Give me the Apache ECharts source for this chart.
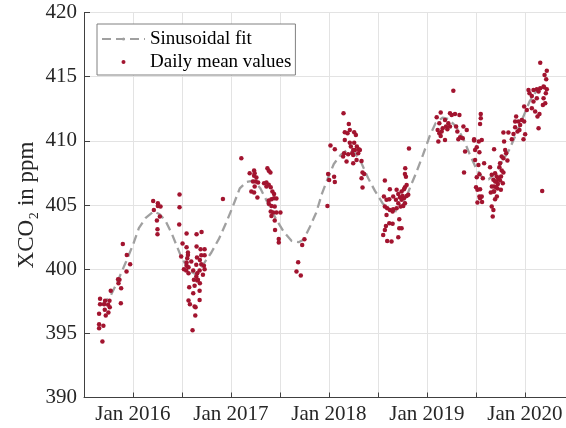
<!DOCTYPE html>
<html>
<head>
<meta charset="utf-8">
<script src="https://cdn.jsdelivr.net/npm/echarts@6/dist/echarts.min.js"></script>
<style>
  html, body { margin: 0; padding: 0; background: #fff; }
  #main { width: 566px; height: 428px; }
</style>
</head>
<body>
<div id="main"></div>
<script>
// x values are decimal years, y values XCO2 in ppm
const janLabels = ['Jan 2016', 'Jan 2017', 'Jan 2018', 'Jan 2019', 'Jan 2020'];
const janYears = [2016, 2017, 2018, 2019, 2020];

const fitCurve = [
  [2015.68, 397.2], [2015.77, 397.9], [2015.84, 399.0], [2015.93, 400.6], [2016.00, 401.9],
  [2016.06, 403.2], [2016.13, 404.0], [2016.21, 404.5], [2016.27, 404.3], [2016.33, 403.8],
  [2016.40, 402.7], [2016.49, 401.0], [2016.57, 399.9], [2016.64, 399.6], [2016.72, 400.4],
  [2016.80, 401.3], [2016.88, 402.4], [2016.95, 403.6], [2017.02, 404.9], [2017.09, 406.3],
  [2017.16, 406.8], [2017.23, 406.9], [2017.30, 406.3], [2017.38, 405.1], [2017.46, 403.9],
  [2017.54, 402.9], [2017.62, 402.2], [2017.69, 402.1], [2017.74, 402.3], [2017.80, 403.2],
  [2017.87, 404.4], [2017.93, 405.9], [2017.99, 407.1], [2018.05, 408.2], [2018.12, 408.9],
  [2018.19, 409.3], [2018.26, 409.1], [2018.33, 408.3], [2018.40, 407.1], [2018.47, 406.1],
  [2018.55, 405.1], [2018.63, 404.6], [2018.70, 404.5], [2018.77, 405.2], [2018.83, 406.4],
  [2018.89, 407.5], [2018.96, 408.9], [2019.03, 410.4], [2019.09, 411.4], [2019.16, 411.8],
  [2019.22, 411.7], [2019.30, 411.1], [2019.37, 410.2], [2019.44, 408.9], [2019.50, 407.9],
  [2019.57, 407.1], [2019.63, 407.0], [2019.70, 407.5], [2019.77, 408.4], [2019.84, 409.3],
  [2019.91, 410.5], [2019.98, 411.8], [2020.05, 413.1], [2020.12, 413.9], [2020.18, 414.3]
];

const daily2015 = [
  [2015.688, 394.37], [2015.654, 395.40], [2015.698, 395.60], [2015.654, 395.70], [2015.654, 396.52],
  [2015.722, 396.39], [2015.749, 396.62], [2015.712, 396.83], [2015.763, 397.04], [2015.746, 397.22],
  [2015.705, 397.27], [2015.664, 397.27], [2015.715, 397.53], [2015.760, 397.53], [2015.664, 397.69],
  [2015.876, 397.35], [2015.773, 398.31], [2015.852, 398.91], [2015.862, 399.17], [2015.848, 399.22],
  [2015.879, 398.52], [2015.934, 399.82], [2015.971, 400.39], [2015.937, 401.11], [2015.896, 401.97]
];

const daily2016 = [
  [2016.206, 405.32], [2016.254, 405.14], [2016.254, 404.93], [2016.281, 404.88], [2016.213, 404.62],
  [2016.274, 404.10], [2016.244, 403.79], [2016.250, 403.11], [2016.250, 402.72],
  [2016.475, 405.81], [2016.475, 404.82], [2016.472, 403.48], [2016.547, 402.77], [2016.649, 402.72],
  [2016.700, 402.90], [2016.506, 402.00], [2016.547, 401.71], [2016.649, 401.76], [2016.690, 401.56],
  [2016.731, 401.56], [2016.561, 401.30], [2016.561, 401.10], [2016.492, 400.98], [2016.554, 400.85],
  [2016.653, 400.90], [2016.697, 401.09], [2016.731, 401.09], [2016.683, 400.72], [2016.547, 400.52],
  [2016.595, 400.60], [2016.547, 400.26], [2016.646, 400.34], [2016.697, 400.39], [2016.724, 400.26],
  [2016.731, 400.00], [2016.567, 400.15], [2016.520, 400.00], [2016.543, 399.90], [2016.567, 399.69],
  [2016.615, 399.90], [2016.656, 399.69], [2016.680, 399.90], [2016.714, 399.56], [2016.646, 399.43],
  [2016.622, 399.17], [2016.663, 399.17], [2016.683, 398.91], [2016.656, 399.12], [2016.629, 398.70],
  [2016.680, 398.31], [2016.615, 398.13], [2016.574, 398.60], [2016.567, 397.56], [2016.581, 397.27],
  [2016.629, 397.09], [2016.639, 397.04], [2016.680, 397.60], [2016.636, 396.39], [2016.608, 395.25],
  [2016.918, 405.47]
];

const daily2017 = [
  [2017.106, 408.64], [2017.191, 407.47], [2017.236, 407.68], [2017.242, 407.47], [2017.236, 407.27],
  [2017.260, 407.14], [2017.225, 406.83], [2017.253, 406.83], [2017.277, 406.75], [2017.208, 406.05],
  [2017.236, 405.97], [2017.270, 405.58], [2017.242, 406.44], [2017.372, 407.86], [2017.386, 407.66],
  [2017.403, 407.53], [2017.338, 406.70], [2017.362, 406.75], [2017.386, 406.57], [2017.406, 406.38],
  [2017.362, 406.44], [2017.423, 406.05], [2017.440, 405.86], [2017.386, 405.35], [2017.413, 405.45],
  [2017.440, 405.53], [2017.464, 405.50], [2017.386, 405.09], [2017.413, 404.93], [2017.447, 404.88],
  [2017.406, 404.49], [2017.430, 404.41], [2017.464, 404.41], [2017.505, 404.41], [2017.413, 404.15],
  [2017.447, 403.79], [2017.450, 403.06], [2017.488, 402.36], [2017.488, 402.07], [2017.686, 400.54],
  [2017.669, 399.82], [2017.713, 399.50], [2017.750, 402.33], [2017.727, 401.89]
];

const daily2018 = [
  [2017.985, 404.93], [2017.992, 407.42], [2018.002, 406.95], [2018.053, 407.21], [2018.060, 406.80],
  [2018.016, 409.63], [2018.060, 409.34], [2018.149, 412.15], [2018.203, 411.32], [2018.213, 410.85],
  [2018.162, 410.67], [2018.190, 410.59], [2018.258, 410.67], [2018.275, 410.46], [2018.162, 410.07],
  [2018.213, 409.86], [2018.258, 409.86], [2018.285, 409.55], [2018.305, 409.34], [2018.265, 409.29],
  [2018.224, 409.55], [2018.248, 409.29], [2018.155, 409.03], [2018.145, 408.77], [2018.196, 408.95],
  [2018.248, 408.90], [2018.299, 409.03], [2018.333, 408.43], [2018.282, 408.51], [2018.248, 408.25],
  [2018.180, 408.38], [2018.237, 409.03], [2018.316, 409.29], [2018.343, 407.53], [2018.360, 407.42],
  [2018.333, 407.08], [2018.343, 406.36],
  [2018.571, 406.90], [2018.622, 406.23], [2018.691, 406.18], [2018.708, 405.86], [2018.742, 406.05],
  [2018.766, 406.23], [2018.776, 406.38], [2018.793, 406.56], [2018.786, 407.21], [2018.776, 407.42],
  [2018.779, 407.86], [2018.561, 405.66], [2018.588, 405.40], [2018.616, 405.45], [2018.656, 405.66],
  [2018.684, 405.40], [2018.725, 405.60], [2018.752, 405.71], [2018.766, 405.53], [2018.793, 405.71],
  [2018.810, 405.79], [2018.742, 405.40], [2018.708, 405.14], [2018.776, 405.14], [2018.571, 404.88],
  [2018.595, 404.75], [2018.622, 404.62], [2018.656, 404.67], [2018.691, 404.75], [2018.732, 404.88],
  [2018.759, 404.93], [2018.588, 404.23], [2018.650, 404.49], [2018.718, 403.89], [2018.582, 403.37],
  [2018.616, 403.58], [2018.650, 403.53], [2018.571, 403.06], [2018.554, 402.67], [2018.718, 403.19],
  [2018.742, 403.19], [2018.708, 402.49], [2018.595, 402.20], [2018.639, 402.15], [2018.817, 409.40]
];

const daily2019 = [
  [2019.270, 413.91], [2019.100, 411.83], [2019.141, 412.20], [2019.185, 411.63], [2019.236, 412.15],
  [2019.253, 412.02], [2019.287, 412.09], [2019.332, 412.02], [2019.219, 411.37], [2019.236, 411.11],
  [2019.298, 411.11], [2019.373, 411.11], [2019.407, 410.85], [2019.110, 410.85], [2019.127, 410.59],
  [2019.151, 410.72], [2019.117, 409.94], [2019.185, 410.07], [2019.127, 411.37], [2019.161, 410.98],
  [2019.141, 410.38], [2019.195, 411.11], [2019.209, 410.90], [2019.311, 410.72], [2019.339, 410.28],
  [2019.366, 410.20], [2019.321, 410.12], [2019.390, 409.16], [2019.379, 407.53], [2019.482, 410.02],
  [2019.509, 409.50], [2019.530, 409.94],
  [2019.550, 412.10], [2019.550, 411.76], [2019.543, 411.32], [2019.482, 410.12], [2019.560, 410.07],
  [2019.492, 409.29], [2019.536, 409.11], [2019.492, 408.51], [2019.526, 408.12], [2019.584, 408.25],
  [2019.509, 407.16], [2019.571, 407.08], [2019.536, 407.40], [2019.502, 406.38], [2019.543, 406.23],
  [2019.536, 405.66], [2019.560, 405.66], [2019.516, 405.19], [2019.563, 405.24], [2019.543, 405.53],
  [2019.516, 406.18],
  [2019.645, 407.94], [2019.686, 409.34], [2019.662, 407.35], [2019.696, 407.47], [2019.713, 407.22],
  [2019.679, 406.96], [2019.707, 406.83], [2019.724, 406.64], [2019.686, 406.44], [2019.707, 406.39],
  [2019.720, 406.28], [2019.686, 406.05], [2019.652, 405.97], [2019.662, 404.88], [2019.679, 404.62],
  [2019.672, 404.10], [2019.696, 405.45], [2019.747, 408.25], [2019.740, 407.94], [2019.764, 407.68],
  [2019.781, 407.53], [2019.757, 407.22], [2019.747, 406.90], [2019.730, 407.09], [2019.663, 406.44],
  [2019.697, 406.83], [2019.731, 407.10], [2019.680, 406.05], [2019.714, 405.66], [2019.755, 406.18],
  [2019.775, 406.70], [2019.781, 410.64], [2019.832, 410.64], [2019.788, 409.94], [2019.799, 409.29],
  [2019.764, 408.77], [2019.809, 409.03], [2019.781, 408.64], [2019.822, 408.46], [2019.867, 410.12],
  [2019.884, 410.54], [2019.901, 411.06], [2019.925, 410.72], [2019.945, 410.85], [2019.911, 411.89],
  [2019.901, 411.50], [2019.935, 411.50], [2019.952, 411.24], [2019.969, 411.63], [2019.993, 411.50],
  [2019.986, 410.12]
];

const daily2020 = [
  [2020.003, 410.51], [2019.993, 412.67], [2020.020, 412.41], [2020.037, 413.97], [2020.047, 413.71],
  [2020.071, 413.50], [2020.088, 413.97], [2020.122, 414.02], [2020.157, 414.10], [2020.140, 413.84],
  [2020.122, 413.32], [2020.088, 413.06], [2020.071, 412.54], [2020.105, 412.28], [2020.129, 411.89],
  [2020.149, 412.10], [2020.184, 412.80], [2020.208, 412.93], [2020.191, 413.32], [2020.214, 413.71],
  [2020.224, 414.02], [2020.191, 414.23], [2020.140, 410.98], [2020.157, 416.09], [2020.201, 415.13],
  [2020.218, 414.80], [2020.224, 415.47], [2020.197, 414.17], [2020.177, 406.10]
];

const dailyMean = [].concat(daily2015, daily2016, daily2017, daily2018, daily2019, daily2020);

const chart = echarts.init(document.getElementById('main'));
const serif = 'Liberation Serif';

const option = {
  animation: false,
  backgroundColor: '#fff',
  textStyle: { fontFamily: serif },
  grid: { left: 84, right: 0, top: 12.5, bottom: 30.5 },
  legend: {
    orient: 'vertical',
    left: 97,
    top: 24,
    padding: [5, 4, 3, 4],
    itemWidth: 43,
    itemHeight: 4,
    itemGap: 3,
    symbolKeepAspect: true,
    backgroundColor: '#fff',
    borderColor: '#808080',
    borderWidth: 1,
    borderRadius: 0,
    textStyle: { fontFamily: serif, fontSize: 19, color: '#000', lineHeight: 20 },
    data: ['Sinusoidal fit', 'Daily mean values']
  },
  xAxis: {
    type: 'value',
    min: 2015.5,
    max: 2020.42,
    interval: 0.5,
    axisLine: { lineStyle: { color: '#404040', width: 1 } },
    axisTick: { inside: true, length: 5, lineStyle: { color: '#404040' } },
    splitLine: { show: true, lineStyle: { color: '#e3e3e3', width: 1 } },
    axisLabel: {
      fontFamily: serif, fontSize: 21, color: '#262626', margin: 6,
      showMaxLabel: false,
      formatter: function (v) {
        const i = janYears.findIndex(function (y) { return Math.abs(y - v) < 1e-6; });
        return i >= 0 ? janLabels[i] : '';
      }
    }
  },
  yAxis: {
    type: 'value',
    min: 390,
    max: 420,
    interval: 5,
    name: 'XCO₂ in ppm',
    nameLocation: 'middle',
    nameGap: 46,
    nameMoveOverlap: false,
    nameTextStyle: { fontFamily: serif, fontSize: 23, color: '#262626' },
    axisLine: { show: true, lineStyle: { color: '#404040', width: 1 } },
    axisTick: { show: true, inside: true, length: 6, lineStyle: { color: '#404040' } },
    splitLine: { show: true, lineStyle: { color: '#e3e3e3', width: 1 } },
    axisLabel: { fontFamily: serif, fontSize: 21, color: '#262626', margin: 7 }
  },
  series: [
    {
      name: 'Sinusoidal fit',
      type: 'line',
      data: fitCurve,
      symbol: 'none',
      showSymbol: false,
      lineStyle: { color: '#a0a0a0', width: 2.3, type: [9, 5] },
      itemStyle: { color: '#a0a0a0' },
      z: 2
    },
    {
      name: 'Daily mean values',
      type: 'scatter',
      data: dailyMean,
      symbol: 'circle',
      symbolSize: 4.5,
      itemStyle: { color: '#a2142f', opacity: 1 },
      z: 3
    }
  ]
};

chart.setOption(option);
</script>
</body>
</html>
